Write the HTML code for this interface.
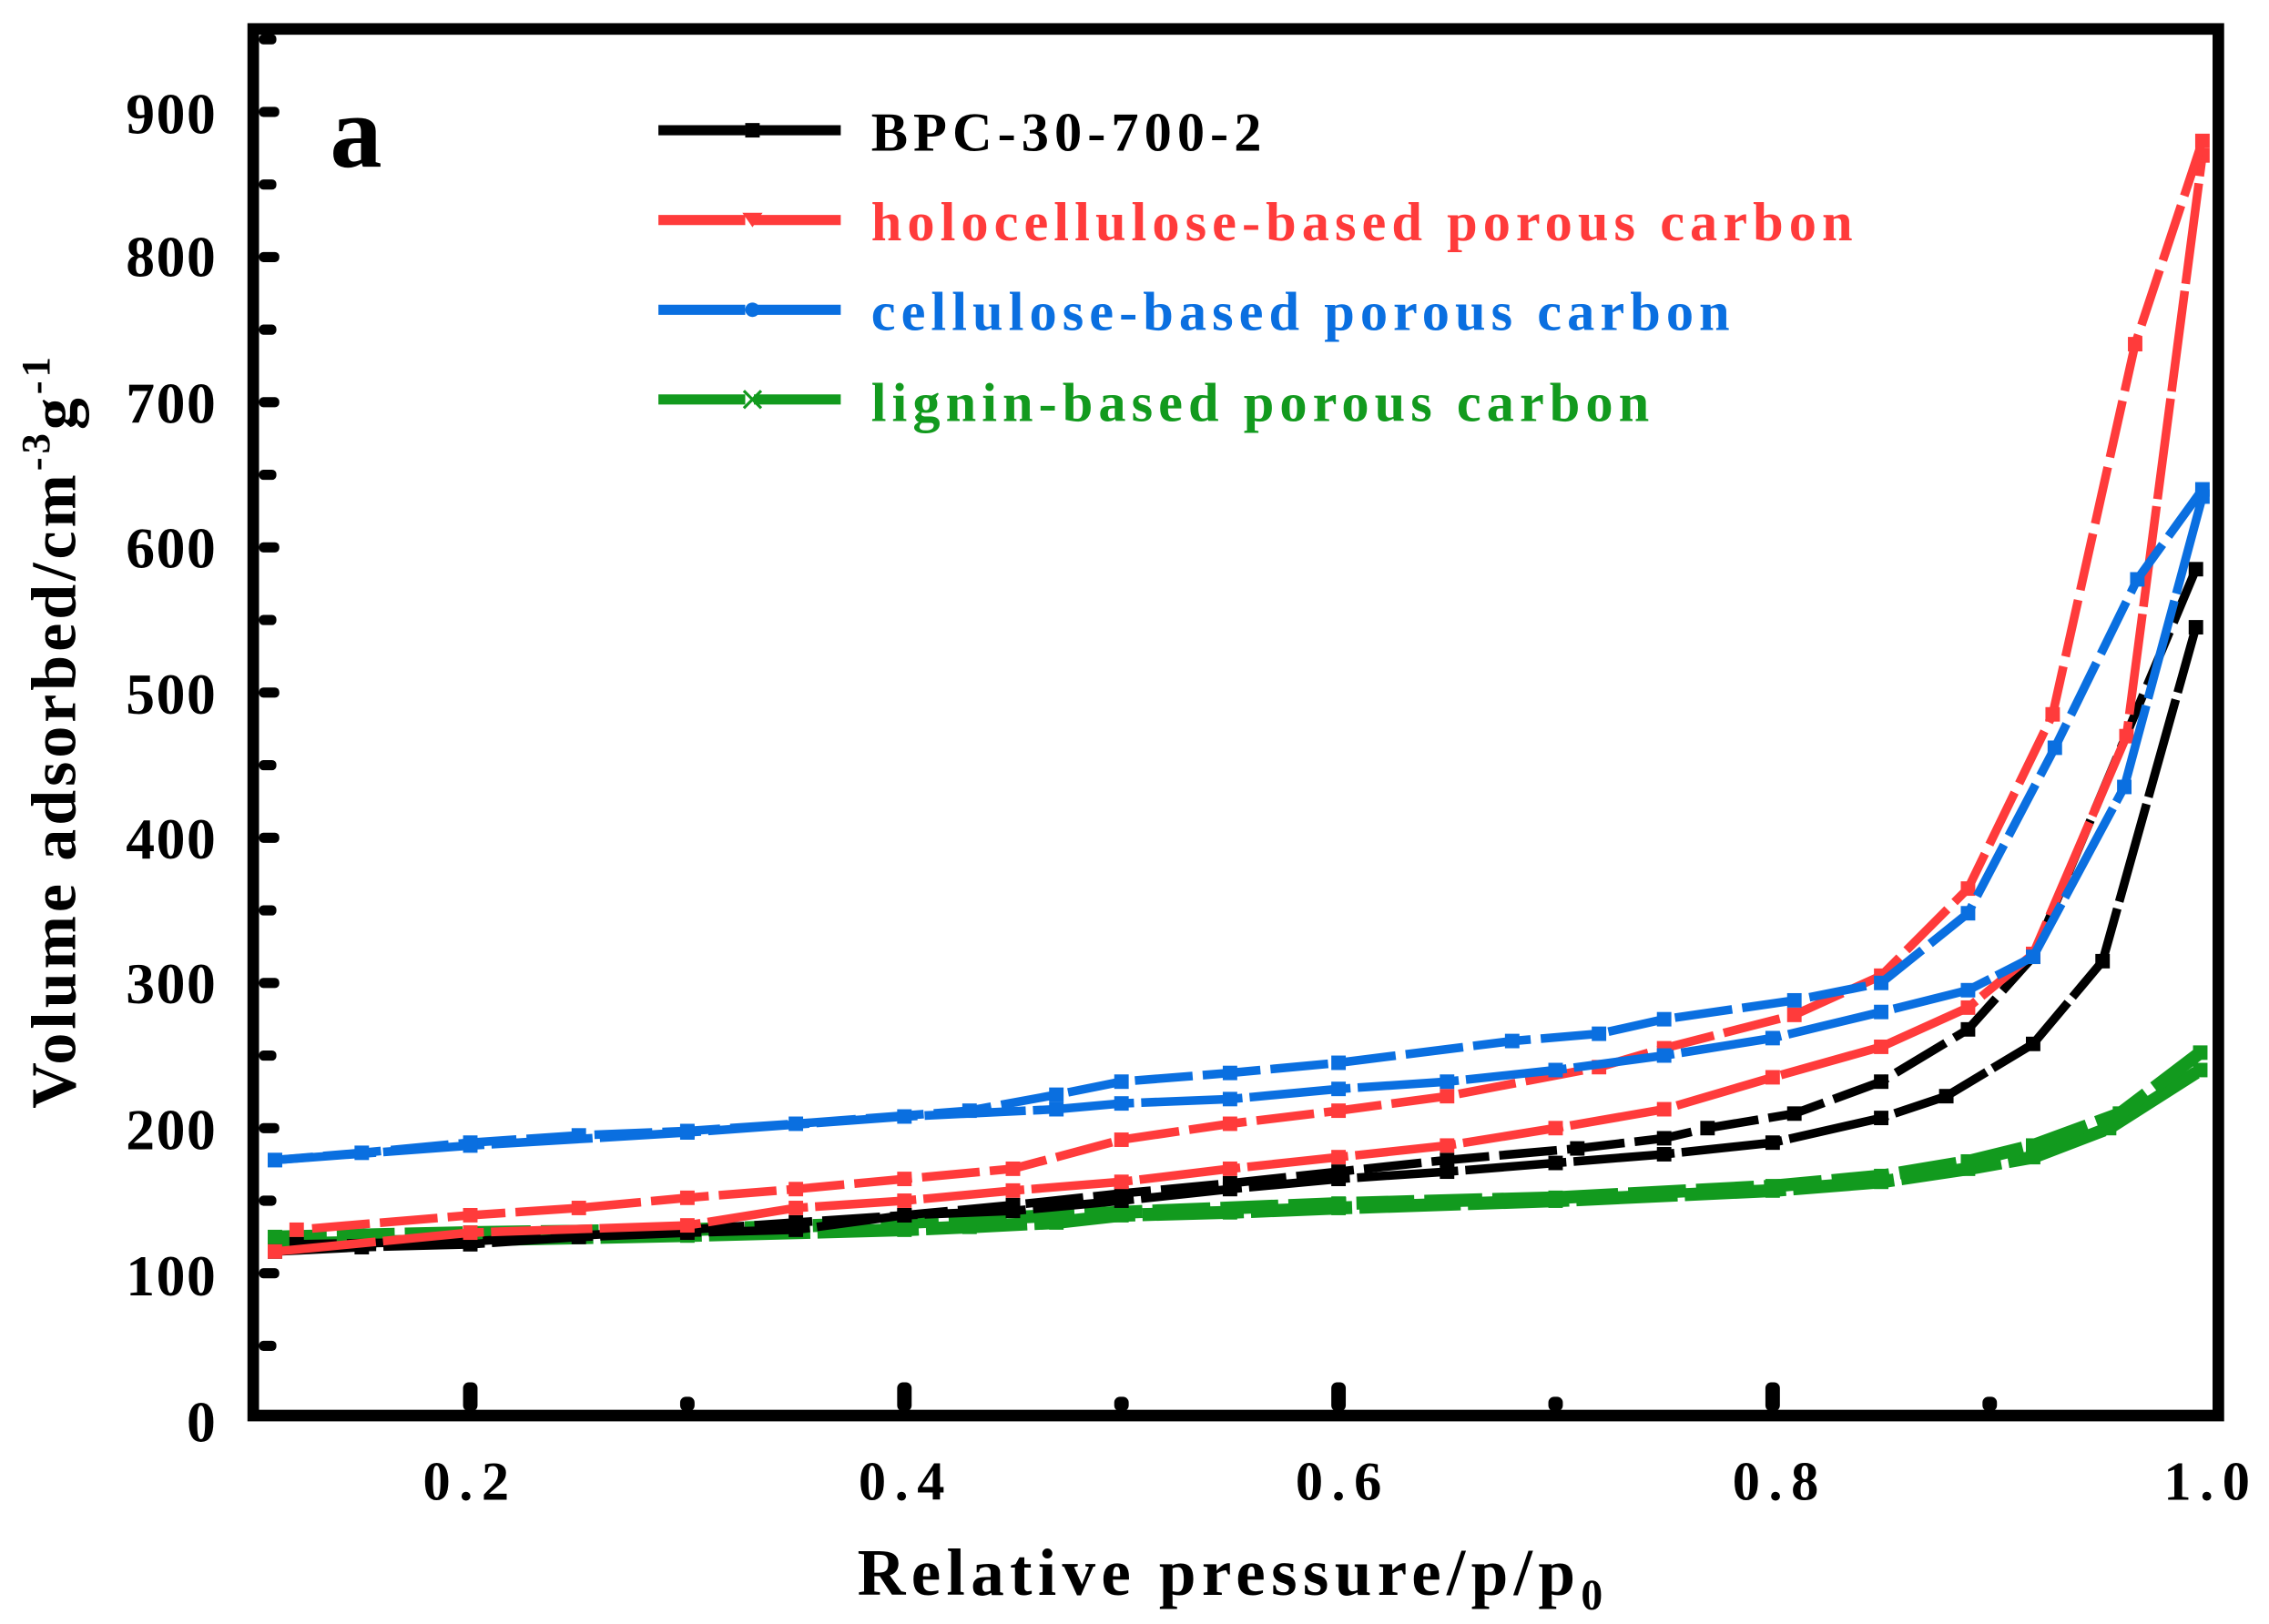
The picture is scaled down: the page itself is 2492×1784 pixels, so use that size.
<!DOCTYPE html>
<html><head><meta charset="utf-8"><style>html,body{margin:0;padding:0;background:#fff}svg{display:block}</style></head>
<body>
<svg id="s" width="2492" height="1784" viewBox="0 0 1568 1122" preserveAspectRatio="none" xmlns="http://www.w3.org/2000/svg" font-family="'Liberation Serif',serif" font-weight="bold">
<rect x="0" y="0" width="1568" height="1122" fill="#fff"/>
<g id="data"></g>
<rect x="175" y="20" width="1358" height="958" fill="none" stroke="#000" stroke-width="8"/>
<g id="ticks" fill="#000"></g>
<g font-size="40" text-anchor="end" letter-spacing="1">
<text x="150" y="92">900</text><text x="150" y="191">800</text><text x="150" y="292">700</text>
<text x="150" y="392">600</text><text x="150" y="493">500</text><text x="150" y="593">400</text>
<text x="150" y="693">300</text><text x="150" y="794">200</text><text x="150" y="895">100</text>
<text x="150" y="996">0</text></g>
<g font-size="38" text-anchor="middle" letter-spacing="6">
<text x="325" y="1036">0.2</text><text x="626" y="1036">0.4</text><text x="928" y="1036">0.6</text>
<text x="1230" y="1036">0.8</text><text x="1528" y="1036">1.0</text></g>
<text x="852" y="1102" font-size="46" text-anchor="middle" letter-spacing="4">Relative pressure/p/p<tspan font-size="30" dy="10">0</tspan></text>
<text transform="translate(52,505) rotate(-90)" font-size="44" text-anchor="middle" letter-spacing="2.5">Volume adsorbed/cm<tspan font-size="28" dy="-18">-3</tspan><tspan dy="18">g</tspan><tspan font-size="28" dy="-18">-1</tspan></text>
<text x="228" y="115" font-size="72">a</text>
<g font-size="38" letter-spacing="3.8">
<text x="602" y="104" fill="#000">BPC-30-700-2</text>
<text x="602" y="166" fill="#ff3b3b">holocellulose-based porous carbon</text>
<text x="602" y="228" fill="#0a6fe0">cellulose-based porous carbon</text>
<text x="602" y="291" fill="#129a1e">lignin-based porous carbon</text></g>
<g stroke-width="7" stroke-dasharray="60 6">
<line x1="455" y1="90" x2="585" y2="90" stroke="#000"/>
<line x1="455" y1="152" x2="585" y2="152" stroke="#ff3b3b"/>
<line x1="455" y1="214" x2="585" y2="214" stroke="#0a6fe0"/>
<line x1="455" y1="276" x2="585" y2="276" stroke="#129a1e"/></g>
<rect x="515" y="85" width="10" height="10" fill="#000"/>
<path d="M513 147 l14 0 l-7 10z" fill="#ff3b3b"/>
<circle cx="520" cy="214" r="5" fill="#0a6fe0"/>
<path d="M514 270 l12 12 M526 270 l-12 12" stroke="#129a1e" stroke-width="2"/>
</svg>
<script>
var NS="http://www.w3.org/2000/svg";
function X(p){return 325+(p-0.2)*1500;}function Y(v){return 980-v*1.003;}
var S=[
["#129a1e",[[0.11,120],[0.2,123],[0.3,126],[0.4,130],[0.43,132],[0.47,135],[0.5,140],[0.55,142],[0.6,145],[0.7,150],[0.8,157],[0.85,163],[0.89,172],[0.92,180],[0.955,200],[0.997,240]],[[0.997,252],[0.96,210],[0.92,188],[0.89,177],[0.85,167],[0.8,160],[0.7,152],[0.6,148],[0.5,142],[0.4,135],[0.3,130],[0.2,128],[0.11,125]]],
["#000",[[0.11,115],[0.15,118],[0.2,120],[0.25,125],[0.3,128],[0.35,130],[0.4,140],[0.45,143],[0.5,150],[0.55,158],[0.6,165],[0.65,170],[0.7,176],[0.75,182],[0.8,190],[0.85,207],[0.88,222],[0.92,258],[0.952,315],[0.995,545]],[[0.995,585],[0.92,318],[0.89,268],[0.85,232],[0.81,210],[0.77,200],[0.75,193],[0.71,186],[0.65,178],[0.6,170],[0.55,162],[0.5,155],[0.45,147],[0.4,140],[0.35,135],[0.3,130],[0.2,122],[0.12,120]]],
["#ff3b3b",[[0.11,115],[0.2,128],[0.3,133],[0.35,145],[0.4,150],[0.45,157],[0.5,163],[0.55,172],[0.6,180],[0.65,188],[0.7,200],[0.75,213],[0.8,235],[0.85,256],[0.89,283],[0.92,320],[0.963,470],[0.998,870]],[[0.998,880],[0.967,740],[0.929,485],[0.89,365],[0.85,305],[0.81,278],[0.75,255],[0.72,242],[0.65,222],[0.6,212],[0.55,203],[0.5,192],[0.45,172],[0.4,165],[0.35,158],[0.3,152],[0.25,145],[0.2,140],[0.12,130]]],
["#0a6fe0",[[0.11,178],[0.2,188],[0.3,197],[0.4,208],[0.47,213],[0.5,217],[0.55,220],[0.6,227],[0.65,232],[0.7,240],[0.75,250],[0.8,262],[0.85,280],[0.89,295],[0.92,318],[0.962,435],[0.998,635]],[[0.998,640],[0.968,578],[0.93,462],[0.89,348],[0.85,300],[0.81,288],[0.75,275],[0.72,265],[0.68,260],[0.6,245],[0.55,238],[0.5,232],[0.47,223],[0.43,212],[0.35,203],[0.3,198],[0.25,195],[0.2,190],[0.15,183],[0.11,178]]]];
var g=document.getElementById("data");
S.forEach(function(s){[s[1],s[2]].forEach(function(b,i){
var pl=document.createElementNS(NS,"polyline");
pl.setAttribute("points",b.map(function(q){return X(q[0])+","+Y(q[1])}).join(" "));
pl.setAttribute("fill","none");pl.setAttribute("stroke",s[0]);pl.setAttribute("stroke-width",s[0]=="#129a1e"?9:6);
pl.setAttribute("stroke-linejoin","round");pl.setAttribute("stroke-dasharray",i==1?"40 7":"70 5");g.appendChild(pl);
b.forEach(function(q){var r=document.createElementNS(NS,"rect");r.setAttribute("x",X(q[0])-5);r.setAttribute("y",Y(q[1])-5);r.setAttribute("width",10);r.setAttribute("height",10);r.setAttribute("fill",s[0]);g.appendChild(r);});
});});
var t=document.getElementById("ticks"),h="";
for(var v=50;v<=950;v+=50){var y=Y(v);if(y<24)break;var w=v%100==0?14:12;h+='<rect x="179" y="'+(y-3.5)+'" width="'+w+'" height="7" rx="3"/>';}
for(var k=2;k<=9;k++){var x=X(k/10);var maj=k%2==0;h+='<rect x="'+(x-5)+'" y="'+(maj?955:965)+'" width="10" height="'+(maj?20:10)+'" rx="4"/>';}
t.innerHTML=h;
</script>
</body></html>
